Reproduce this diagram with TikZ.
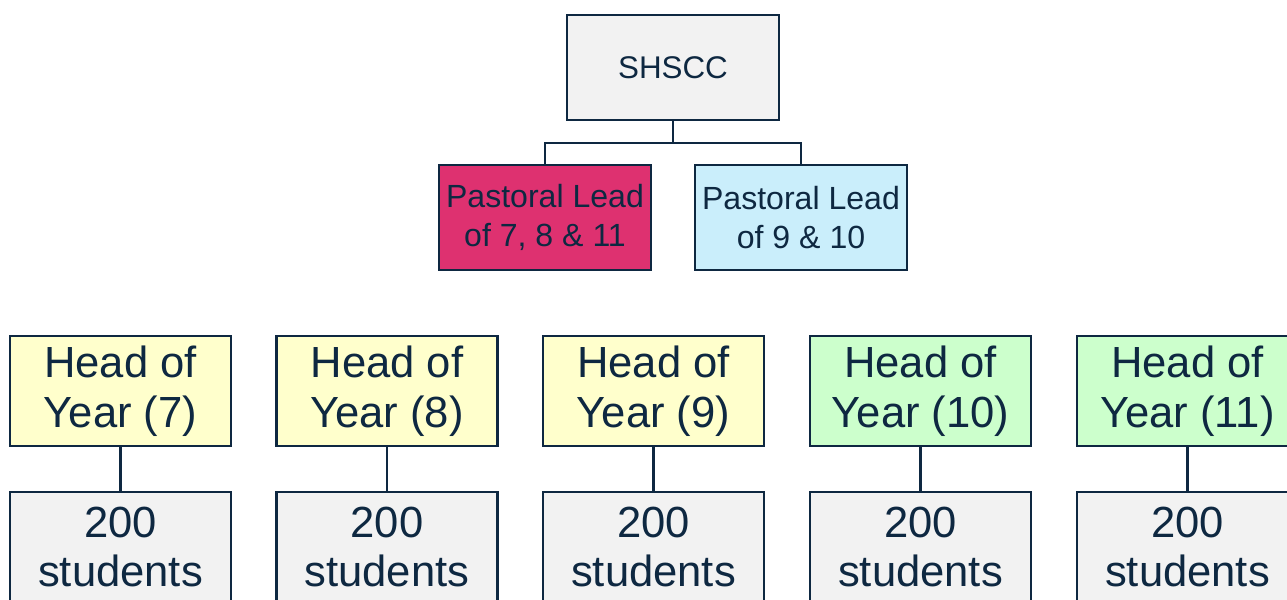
\documentclass[tikz,border=0pt]{standalone}
\usepackage{fontspec}
\setmainfont{Liberation Sans}
\definecolor{navy}{HTML}{0E2841}
\definecolor{boxgray}{HTML}{F2F2F2}
\definecolor{leadpink}{HTML}{DE3170}
\definecolor{leadblue}{HTML}{CAEEFB}
\definecolor{hoyyellow}{HTML}{FFFFCC}
\definecolor{hoygreen}{HTML}{CCFFCC}

\tikzstyle{box} = [style={rectangle,draw=navy,line width=1.9pt,text=navy,align=center,inner sep=0pt}]
\tikzstyle{lead} = [style={box,minimum width=5.3cm,minimum height=2.625cm,font=\fontsize{22.8}{27.7}\selectfont}]
\tikzstyle{year} = [style={box,minimum width=5.525cm,minimum height=2.75cm,font=\fontsize{31}{35.5}\selectfont}]
\tikzstyle{link} = [style={draw=navy,line width=1.9pt}]
\newcommand*{\yhead}{391}
\newcommand*{\ystud}{547}

\begin{document}
\begin{tikzpicture}[x=0.025cm,y=-0.025cm]
\useasboundingbox (0,0) rectangle (1287,599);

%% top
\node [lead, fill=boxgray, font=\fontsize{22.3}{26}\selectfont] (shscc) at (673,67.5) {SHSCC};
\node [lead, fill=leadpink] (lead1) at (545,217.5) {Pastoral Lead\\of 7, 8 \& 11};
\node [lead, fill=leadblue] (lead2) at (801,217.5) {Pastoral Lead\\of 9 \& 10};

\coordinate (fork) at (673,143);
\draw [link] (shscc.south) -- (fork);
\draw [link] (lead1.north) |- (fork) -| (lead2.north);

%% heads of year and students
\foreach \n/\x/\c in {7/120.5/hoyyellow, 8/387/hoyyellow, 9/653.5/hoyyellow, 10/920.5/hoygreen, 11/1187.5/hoygreen}
  {
  \node [year, fill=\c] (h\n) at (\x,\yhead) {Head of\\Year (\n)};
  \node [year, fill=boxgray] (s\n) at (\x,\ystud) {200\\students};
  \draw [link] (h\n.south) -- (s\n.north);
  }

\end{tikzpicture}
\end{document}
